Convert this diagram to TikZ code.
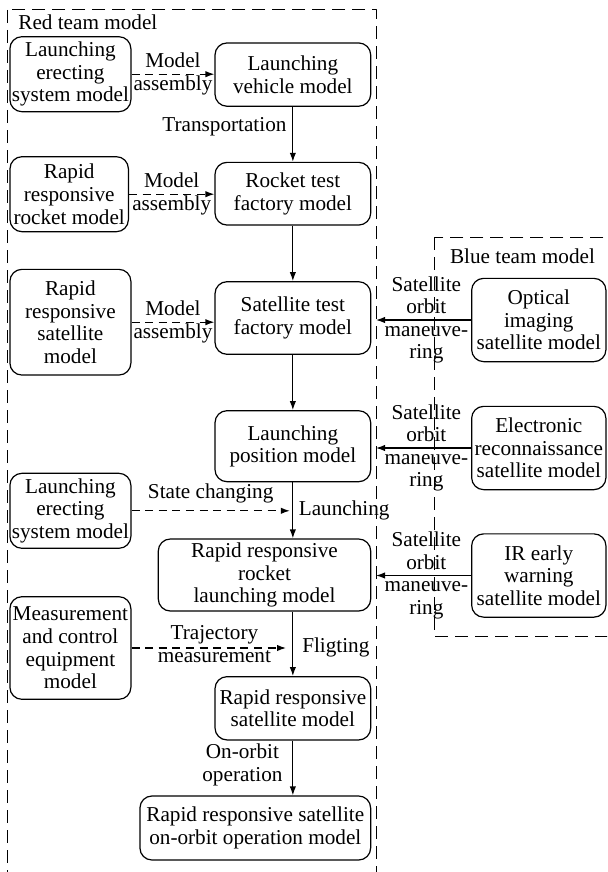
\documentclass[tikz,border=0pt]{standalone}
\usepackage{fontspec}
\setmainfont{Liberation Serif}
\usetikzlibrary{arrows.meta}

\begin{document}
\begin{tikzpicture}[x=0.5pt,y=-0.5pt,font=\fontsize{10.6}{11.3}\selectfont,line join=round,
		>={Latex[length=4.5pt,width=3.2pt]},
		model/.style={draw,rounded corners=6pt,align=center,inner sep=0pt,line width=0.6pt},
		flow/.style={->,line width=0.6pt},
		asm/.style={->,line width=0.6pt,dash pattern=on 4pt off 2.8pt},
		team/.style={line width=0.5pt,dash pattern=on 6.5pt off 3.5pt},
		lbl/.style={align=center,inner sep=1pt}]
	\useasboundingbox (0,0) rectangle (607,872);
	\clip (0,0) rectangle (607,872);
	
	% team areas
	\draw[team] (7,10) rectangle (376,900);
	\draw[team] (434,237.3) rectangle (640,636);
	\coordinate (redR) at (376,0);
	\node[anchor=west,inner sep=0pt] (red) at (18,22) {Red team model};
	\node[inner sep=0pt] (blue) at (522.5,256.7) {Blue team model};
	
	% red team models
	\node[model,minimum width=60.5pt,minimum height=37.5pt] (les1) at (70.4,74.2) {Launching\\erecting\\system model};
	\node[model,minimum width=77.85pt,minimum height=31.65pt] (lvm) at (292.85,74.6) {Launching\\vehicle model};
	\node[model,minimum width=59.2pt,minimum height=37.5pt] (rrm) at (69.2,194.2) {Rapid\\responsive\\rocket model};
	\node[model,minimum width=77.85pt,minimum height=31.35pt] (rtf) at (292.85,193.7) {Rocket test\\factory model};
	\node[model,minimum width=60.5pt,minimum height=52.85pt] (rrs) at (70.4,322.2) {Rapid\\responsive\\satellite\\model};
	\node[model,minimum width=77.85pt,minimum height=36.3pt] (stf) at (292.85,318) {Satellite test\\factory model};
	\node[model,minimum width=77.85pt,minimum height=35.5pt] (lp) at (292.85,446.2) {Launching\\position model};
	\node[model,minimum width=60.5pt,minimum height=37.5pt] (les2) at (70.4,510.8) {Launching\\erecting\\system model};
	\node[model,minimum width=106.2pt,minimum height=36pt] (rrl) at (264.5,575) {Rapid responsive\\rocket\\launching model};
	\node[model,minimum width=60.5pt,minimum height=51.3pt] (mce) at (70.4,648) {Measurement\\and control\\equipment\\model};
	\node[model,minimum width=77.85pt,minimum height=31.65pt] (rrsat) at (292.85,708.3) {Rapid responsive\\satellite model};
	\node[model,minimum width=115.35pt,minimum height=32pt] (oom) at (255.3,828) {Rapid responsive satellite\\on-orbit operation model};
	
	% blue team models
	\node[model,minimum width=67.15pt,minimum height=41.65pt] (opt) at (538.8,320) {Optical\\imaging\\satellite model};
	\node[model,minimum width=67.15pt,minimum height=41.65pt] (elec) at (538.8,448) {Electronic\\reconnaissance\\satellite model};
	\node[model,minimum width=67.15pt,minimum height=41.65pt] (ir) at (538.8,575.5) {IR early\\warning\\satellite model};
	
	% main chain
	\draw[asm] (les1.east) -- (les1.east -| lvm.west) node[lbl,midway] {Model\\assembly};
	\draw[flow] (lvm) -- (rtf) node[lbl,pos=0.37,left=1.9pt] {Transportation};
	\draw[asm] (rrm.east) -- (rrm.east -| rtf.west) node[lbl,midway] {Model\\assembly};
	\draw[flow] (rtf) -- (stf);
	\draw[asm] (rrs.east) -- (rrs.east -| stf.west) node[lbl,midway] {Model\\assembly};
	\draw[flow] (stf) -- (lp);
	\draw[flow] (lp.south) -- (lp.south |- rrl.north) node[lbl,midway,right=1.7pt] {Launching};
	\draw[asm] (les2.east) -- ([xshift=-1.5pt]les2.east -| lp.south) node[lbl,midway,yshift=8.8pt] {State changing};
	\draw[flow] (rrl.south -| rrsat.north) -- (rrsat.north) node[lbl,pos=0.56,right=3.4pt] {Fligting};
	\draw[asm] (mce.east) -- ([xshift=-3.4pt]mce.east -| rrsat.north) node[lbl,midway,xshift=2.8pt,yshift=2.1pt] {Trajectory\\measurement};
	\draw[flow] (rrsat) -- (rrsat.south |- oom.north) node[lbl,pos=0.44,left=3.9pt] {On-orbit\\operation};
	
	% blue team effects
	\draw[flow] (opt.west) -- (opt.west -| redR) node[lbl,midway,xshift=1.4pt] {Satellite\\orbit\\maneuve-\\ring};
	\draw[flow] (elec.west) -- (elec.west -| redR) node[lbl,midway,xshift=1.4pt] {Satellite\\orbit\\maneuve-\\ring};
	\draw[flow] (ir.west) -- (ir.west -| redR) node[lbl,midway,xshift=1.4pt] {Satellite\\orbit\\maneuve-\\ring};
\end{tikzpicture}
\end{document}
